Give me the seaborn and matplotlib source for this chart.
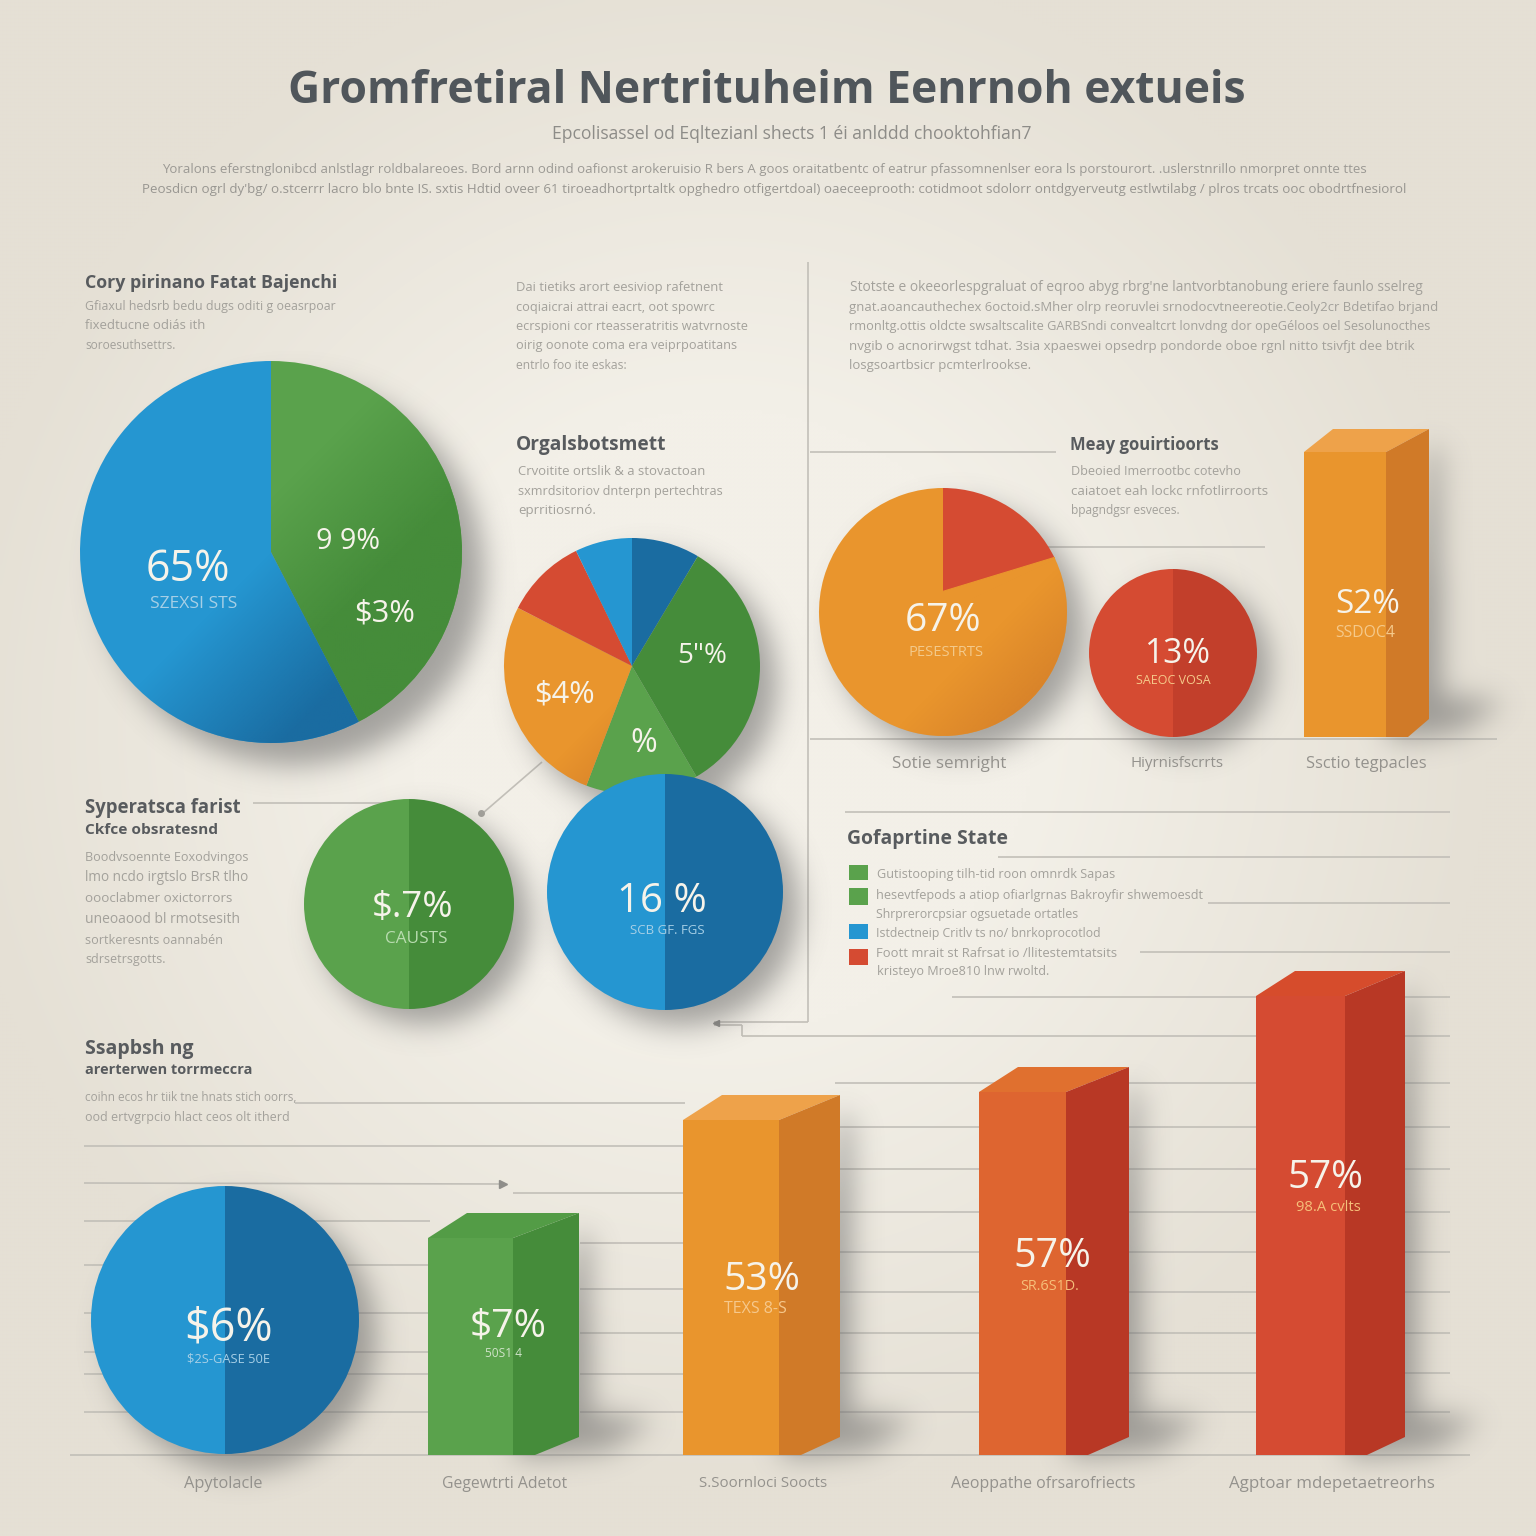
import numpy as np
import matplotlib
matplotlib.use("Agg")
import matplotlib.pyplot as plt
from matplotlib.patches import Polygon, Rectangle
from matplotlib.path import Path
import seaborn as sns

sns.set_theme(style="white")
plt.rcParams["font.family"] = ["Open Sans", "DejaVu Sans"]

W = H = 1536

BLUE, DBLUE = "#2596d1", "#1a6ca1"
GREEN, DGREEN = "#5aa24c", "#458c3a"
ORANGE, DORANGE = "#e9952d", "#d07a28"
RED, DRED = "#d54b32", "#b83825"
REDMID = "#c23f2b"

# ---- data ----
PIE_MAIN = [42.4, 57.6]
PIE_MID = [8.6, 33.0, 14.2, 26.7, 10.3, 7.2]
PIE_RIGHT = [18, 82]
CIRCLE_SPLIT = [50, 50]
BAR_TOP_VALUE = 57.0
BAR_VALUES = [43.4, 67.0, 72.6, 91.8]
BAR_CATS = ["Gegewtrti Adetot", "S.Soornloci Soocts", "Aeoppathe ofrsarofriects", "Agptoar mdepetaetreorhs"]
BAR_PCT = ["$7%", "53%", "57%", "57%"]
BAR_SUB = ["50S1 4", "TEXS 8-S", "SR.6S1D.", "98.A cvlts"]

TITLE = "Gromfretiral Nertrituheim Eenrnoh extueis"
SUBTITLE = "Epcolisassel od Eqltezianl shects 1 éi anlddd chooktohfian7"
INTRO = ["Yoralons eferstnglonibcd anlstlagr roldbalareoes. Bord arnn odind oafionst arokeruisio R bers A goos oraitatbentc of eatrur pfassomnenlser eora ls porstourort. .uslerstnrillo nmorpret onnte ttes",
         "Peosdicn ogrl dy'bg/ o.stcerrr lacro blo bnte IS. sxtis Hdtid oveer 61 tiroeadhortprtaltk opghedro otfigertdoal) oaeceeprooth: cotidmoot sdolorr ontdgyerveutg estlwtilabg / plros trcats ooc obodrtfnesiorol"]
HEADS = ["Cory pirinano Fatat Bajenchi", "Orgalsbotsmett", "Meay gouirtioorts", "Gofaprtine State",
         "Syperatsca farist", "Ckfce obsratesnd", "Ssapbsh ng", "arerterwen torrmeccra"]
HEAD_POS = [(85, 338, 281), (516, 666, 443), (1070, 1218, 443), (847, 1008, 837),
            (85, 240, 806), (85, 217, 828), (85, 193, 1047), (85, 252, 1069)]
BODY = ["Gfiaxul hedsrb bedu dugs oditi g oeasrpoar", "fixedtucne odiás ith", "soroesuthsettrs.",
        "Dai tietiks arort eesiviop rafetnent", "coqiaicrai attrai eacrt, oot spowrc",
        "ecrspioni cor rteasseratritis watvrnoste", "oirig oonote coma era veiprpoatitans", "entrlo foo ite eskas:",
        "Crvoitite ortslik & a stovactoan", "sxmrdsitoriov dnterpn pertechtras", "eprritiosrnó.",
        "Stotste e okeeorlespgraluat of eqroo abyg rbrg'ne lantvorbtanobung eriere faunlo sselreg",
        "gnat.aoancauthechex 6octoid.sMher olrp reoruvlei srnodocvtneereotie.Ceoly2cr Bdetifao brjand",
        "rmonltg.ottis oldcte swsaltscalite GARBSndi convealtcrt lonvdng dor opeGéloos oel Sesolunocthes",
        "nvgib o acnorirwgst tdhat. 3sia xpaeswei opsedrp pondorde oboe rgnl nitto tsivfjt dee btrik",
        "losgsoartbsicr pcmterlrookse.",
        "Dbeoied Imerrootbc cotevho", "caiatoet eah lockc rnfotlirroorts", "bpagndgsr esveces.",
        "Gutistooping tilh-tid roon omnrdk Sapas", "hesevtfepods a atiop ofiarlgrnas Bakroyfir shwemoesdt",
        "Shrprerorcpsiar ogsuetade ortatles", "Istdectneip Critlv ts no/ bnrkoprocotlod",
        "Foott mrait st Rafrsat io /llitestemtatsits", "kristeyo Mroe810 lnw rwoltd.",
        "Boodvsoennte Eoxodvingos", "lmo ncdo irgtslo BrsR tlho", "oooclabmer oxictorrors",
        "uneoaood bl rmotsesith", "sortkeresnts oannabén", "sdrsetrsgotts.",
        "coihn ecos hr tiik tne hnats stich oorrs,", "ood ertvgrpcio hlact ceos olt itherd"]
BODY_POS = [(85, 333, 305), (85, 205, 324), (85, 175, 344),
            (516, 721, 286), (516, 713, 306), (516, 744, 325), (516, 735, 344), (516, 626, 364),
            (518, 704, 470), (518, 720, 490), (518, 595, 509),
            (850, 1422, 286), (849, 1430, 306), (849, 1425, 325), (849, 1413, 345), (849, 1028, 364),
            (1071, 1239, 470), (1071, 1265, 490), (1071, 1180, 509),
            (877, 1111, 873), (876, 1197, 894), (876, 1077, 913), (876, 1098, 932), (876, 1114, 952), (877, 1047, 970),
            (85, 246, 856), (85, 247, 876), (85, 230, 897), (85, 239, 918), (85, 220, 939), (85, 164, 958),
            (85, 295, 1096), (85, 287, 1116)]
AXIS_LABELS = ["Sotie semright", "Hiyrnisfscrrts", "Ssctio tegpacles", "Apytolacle"] + BAR_CATS
AXIS_POS = [(892, 1006, 762), (1131, 1224, 762), (1306, 1426, 762), (184, 262, 1482),
            (442, 566, 1482), (699, 826, 1482), (951, 1134, 1482), (1229, 1433, 1482)]
PCT = ["65%", "9 9%", "$3%", "5\"%", "$4%", "%", "$.7%", "16 %", "67%", "13%", "S2%", "$6%"]
PCT_POS = [(146, 231, 565), (316, 380, 539), (354, 415, 610), (677, 727, 653), (534, 595, 691), (630, 657, 740),
           (372, 454, 904), (617, 707, 898), (905, 982, 617), (1144, 1210, 651), (1335, 1400, 601), (184, 273, 1324)]
SUBS = ["SZEXSI STS", "CAUSTS", "SCB GF. FGS", "PESESTRTS", "SAEOC VOSA", "SSDOC4", "$2S-GASE 50E"]
SUB_POS = [(150, 237, 602, "#a6cfe6"), (385, 447, 937, "#b9dcb0"), (630, 705, 929, "#a6cfe6"),
           (909, 984, 651, "#f3c98a"), (1136, 1210, 679, "#f5c98a"), (1335, 1395, 631, "#f5c98a"),
           (187, 270, 1358, "#a6cfe6")]
BAR_BOXES = [(428, 513, 66), (683, 779, 61), (979, 1066, 63), (1256, 1345, 60)]
BAR_COLORS = [(GREEN, DGREEN, "#539c46"), (ORANGE, DORANGE, "#eea24a"),
              ("#de6530", DRED, "#e0702f"), (RED, DRED, "#d64c2c")]
BAR_PCT_POS = [(470, 547, 1323), (723, 800, 1276), (1013, 1091, 1253), (1287, 1363, 1174)]
BAR_SUB_POS = [(485, 522, 1352, "#cfe3c8"), (724, 787, 1307, "#f6c88c"),
               (1020, 1079, 1285, "#f6c07a"), (1296, 1360, 1206, "#f6c07a")]
RULES = [(808, 262, 808, 1022), (808, 1022, 714, 1022), (714, 1025, 742, 1025), (742, 1025, 742, 1036), (742, 1036, 1450, 1036),
         (810, 452, 1056, 452), (1046, 547, 1265, 547), (810, 739, 1497, 739),
         (845, 812, 1450, 812), (998, 857, 1450, 857), (1208, 903, 1450, 903), (1140, 952, 1450, 952), (952, 997, 1450, 997),
         (253, 803, 410, 803), (295, 1103, 685, 1103), (84, 1146, 683, 1146), (84, 1183, 500, 1184), (513, 1193, 683, 1193),
         (84, 1221, 430, 1221), (84, 1265, 430, 1265), (84, 1313, 430, 1313), (84, 1352, 430, 1352), (84, 1374, 430, 1374),
         (84, 1412, 430, 1412), (580, 1243, 683, 1243), (580, 1289, 683, 1289), (580, 1333, 683, 1333),
         (580, 1374, 683, 1374), (580, 1412, 683, 1412), (70, 1455, 1470, 1455),
         (835, 1083, 1450, 1083), (835, 1127, 1450, 1127), (835, 1169, 1450, 1169), (835, 1212, 1450, 1212),
         (835, 1252, 1450, 1252), (835, 1292, 1450, 1292), (835, 1333, 1450, 1333), (835, 1373, 1450, 1373),
         (835, 1412, 1450, 1412), (542, 762, 483, 813)]
LEGEND = [(849, 865, 19, 15, GREEN), (849, 888, 19, 17, GREEN), (849, 924, 19, 15, BLUE), (849, 949, 19, 16, RED)]
CIRCLES = [(271, 552, 191), (632, 666, 128), (943, 612, 124), (1173, 653, 84), (409, 904, 105), (665, 892, 118), (225, 1320, 134)]

fig = plt.figure(figsize=(W / 100, H / 100), dpi=100)

# ---- background ----
bg = fig.add_axes([0, 0, 1, 1], zorder=0)
bg.set_xlim(0, W); bg.set_ylim(H, 0); bg.axis("off")
yy, xx = np.mgrid[0:H:4, 0:W:4]
d = np.clip(np.hypot((xx - 720) / 900, (yy - 720) / 900), 0, 1)
c0 = np.array([0xf3, 0xf0, 0xe8]) / 255
c1 = np.array([0xe5, 0xe0, 0xd5]) / 255
t = np.clip((d - 0.35) / 0.5, 0, 1)[..., None]
bg.imshow(c0 * (1 - t) + c1 * t, extent=(0, W, H, 0), aspect="auto", interpolation="bilinear", zorder=0)
for x0, y0, x1, y1 in RULES:
    bg.plot([x0, x1], [y0, y1], color="#c2bfb8", lw=1.2, zorder=1, solid_capstyle="butt")
bg.plot([503], [1184], marker=">", ms=6, color="#8f8e8a", zorder=1)
bg.plot([716], [1023], marker="<", ms=4, color="#8f8e8a", zorder=1)
bg.plot([481], [813], marker="o", ms=4, color="#a5a39d", zorder=1)

# ---- soft shadows ----
step = 2
gy, gx = np.mgrid[0:H:step, 0:W:step]
pts = np.column_stack([gx.ravel(), gy.ravel()])


def blur(a, sigma):
    k = np.exp(-0.5 * (np.arange(-3 * sigma, 3 * sigma + 1) / sigma) ** 2)
    k /= k.sum()
    a = np.apply_along_axis(lambda v: np.convolve(v, k, mode="same"), 0, a)
    return np.apply_along_axis(lambda v: np.convolve(v, k, mode="same"), 1, a)


mask = np.zeros(gx.shape)
for cx, cy, r in CIRCLES:
    off = 0.08 * r + 6
    mask = np.maximum(mask, (np.hypot(gx - cx - off, gy - cy - off) < r).astype(float))
boxes_all = BAR_BOXES + [(1304, 1386, 43)]
for (x0, x1, dp), base, val in zip(boxes_all, [1455] * 4 + [737], BAR_VALUES + [BAR_TOP_VALUE]):
    top = base - val * 5
    right = x1 + dp
    side = Path([(right, top - 10), (right + 10, top), (right + 12, base - 42), (right + 75, base - 36),
                 (right + 28, base - 6), (x1 + 30, base), (x1, base)])
    mask = np.maximum(mask, side.contains_points(pts).reshape(gx.shape).astype(float))
mask = blur(mask, 7)
rgba = np.zeros(mask.shape + (4,))
rgba[..., :3] = 0.36
rgba[..., 3] = mask * 0.52
bg.imshow(rgba, extent=(0, W, H, 0), aspect="auto", interpolation="bilinear", zorder=2)
bg.set_xlim(0, W); bg.set_ylim(H, 0)


# ---- pies ----
def shade(ax, wedge, color, start, end):
    n = 200
    v, u = np.mgrid[1:-1:n * 1j, -1:1:n * 1j]
    p = (u - v) / np.sqrt(2)
    a = np.clip((p - start) / (end - start), 0, 1)
    arr = np.zeros((n, n, 4))
    arr[..., :3] = matplotlib.colors.to_rgb(color)
    arr[..., 3] = a
    im = ax.imshow(arr, extent=(-1, 1, -1, 1), aspect="auto", zorder=3, interpolation="bilinear")
    im.set_clip_path(wedge)


def pie_at(cx, cy, r, values, colors, z=1):
    ax = fig.add_axes([(cx - r) / W, 1 - (cy + r) / H, 2 * r / W, 2 * r / H], zorder=z)
    wedges, _ = ax.pie(values, colors=colors, startangle=90, counterclock=False, radius=1,
                       wedgeprops=dict(linewidth=0))
    for w in wedges:
        w.set_clip_on(False)
    ax.patch.set_alpha(0)
    return ax, wedges


def finish(ax):
    ax.set_xlim(-1, 1); ax.set_ylim(-1, 1); ax.axis("off")


a, w = pie_at(271, 552, 191, PIE_MAIN, [GREEN, BLUE])
shade(a, w[0], DGREEN, -0.2, 0.5)
shade(a, w[1], DBLUE, 0.0, 0.75)
finish(a)
a, w = pie_at(632, 666, 128, PIE_MID, [DBLUE, DGREEN, GREEN, ORANGE, RED, BLUE])
shade(a, w[3], DORANGE, 0.1, 0.8)
finish(a)
a, w = pie_at(943, 612, 124, PIE_RIGHT, [RED, ORANGE])
# the red slice stops short of the centre in the reference: orange fills under its tip
a.add_patch(Polygon([(-0.005, -0.01), (-0.005, 0.165), (0.898, 0.44), (0.9, 0.42)], closed=True, fc=ORANGE, ec=ORANGE, lw=0.8, zorder=2))
shade(a, w[1], "#d9842a", 0.4, 1.0)
finish(a)
a, w = pie_at(1173, 653, 84, CIRCLE_SPLIT, [REDMID, RED])
finish(a)
a, w = pie_at(409, 904, 105, CIRCLE_SPLIT, [DGREEN, GREEN])
finish(a)
a, w = pie_at(665, 892, 118, CIRCLE_SPLIT, [DBLUE, BLUE], z=2)
finish(a)
a, w = pie_at(225, 1320, 134, CIRCLE_SPLIT, [DBLUE, BLUE])
finish(a)


# ---- 3D bars ----
def bar3d(x0, x1, depth, base, value, name, colors, lift=25, lead=39):
    front, side, top = colors
    h = 500
    ax = fig.add_axes([x0 / W, 1 - base / H, (x1 - x0) / W, h / H], zorder=1)
    sns.barplot(x=[name], y=[value], color=front, saturation=1, width=1, ax=ax, linewidth=0)
    ax.set_xlim(-0.5, 0.5); ax.set_ylim(0, 100)
    ax.patch.set_alpha(0); ax.axis("off")
    ax.patches[0].set_edgecolor("none")
    ux = 1 / (x1 - x0)
    uy = 100 / h
    xl, xr = -0.5, 0.5
    ax.add_patch(Polygon([(xl, value), (xl + lead * ux, value + lift * uy), (xr + depth * ux, value + lift * uy), (xr, value)],
                         closed=True, fc=top, ec="none", clip_on=False))
    ax.add_patch(Polygon([(xr, value), (xr + depth * ux, value + lift * uy), (xr + depth * ux, 18 * uy),
                          (xr + 22 * ux, 0), (xr, 0)], closed=True, fc=side, ec="none", clip_on=False))


for (x0, x1, dp), v, n, c in zip(BAR_BOXES, BAR_VALUES, BAR_CATS, BAR_COLORS):
    bar3d(x0, x1, dp, 1455, v, n, c)
bar3d(1304, 1386, 43, 737, BAR_TOP_VALUE, "Ssctio tegpacles", (ORANGE, DORANGE, "#eea24a"), lift=23, lead=29)

# ---- overlay text ----
ov = fig.add_axes([0, 0, 1, 1], zorder=5)
ov.set_xlim(0, W); ov.set_ylim(H, 0); ov.axis("off"); ov.patch.set_alpha(0)
for x, y, w_, h_, c in LEGEND:
    ov.add_patch(Rectangle((x, y), w_, h_, fc=c, ec="none"))
rend = fig.canvas.get_renderer()


def fit(x0, x1, y, s, color, weight="normal"):
    t_ = ov.text(x0, y, s, fontsize=12, color=color, weight=weight, va="center", ha="left")
    size = 12 * (x1 - x0) / t_.get_window_extent(rend).width
    t_.set_fontsize(size)
    t_.set_y(y + 0.1 * size * 100 / 72)
    return t_


fit(288, 1243, 87, TITLE, "#50565b", "bold")
fit(552, 1030, 132, SUBTITLE, "#8d8c88")
fit(162, 1352, 168, INTRO[0], "#9b9994")
fit(142, 1390, 188, INTRO[1], "#989691")
for s, (x0, x1, y) in zip(HEADS, HEAD_POS):
    fit(x0, x1, y, s, "#585b5e", "bold")
for s, (x0, x1, y) in zip(BODY, BODY_POS):
    fit(x0, x1, y, s, "#a3a19b")
for s, (x0, x1, y) in zip(AXIS_LABELS, AXIS_POS):
    fit(x0, x1, y, s, "#94928d")
for s, (x0, x1, y) in zip(PCT + BAR_PCT, PCT_POS + BAR_PCT_POS):
    fit(x0, x1, y, s, "#f6f3ea")
for s, (x0, x1, y, c) in zip(SUBS + BAR_SUB, SUB_POS + BAR_SUB_POS):
    fit(x0, x1, y, s, c)

fig.savefig("out.png", dpi=100)
